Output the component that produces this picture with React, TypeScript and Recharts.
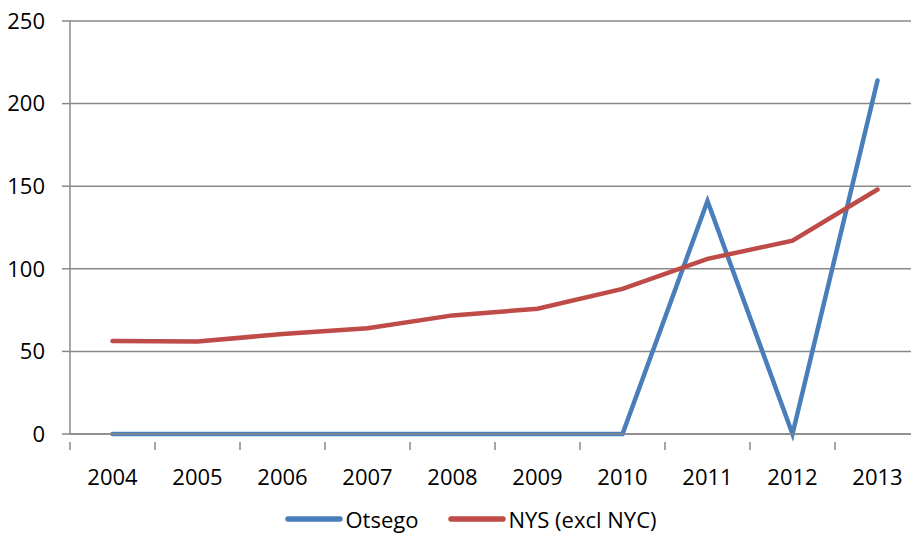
import { LineChart, Line, XAxis, YAxis, CartesianGrid, Legend } from "recharts";

const years = ["2004", "2005", "2006", "2007", "2008", "2009", "2010", "2011", "2012", "2013"];
const otsego = [0, 0, 0, 0, 0, 0, 0, 141, 0, 214];
const nys = [56.3, 56, 60.5, 64, 71.8, 75.8, 87.8, 106, 117, 148];
const yTicks = [0, 50, 100, 150, 200, 250];

const data = years.map((year, i) => ({ year, otsego: otsego[i], nys: nys[i] }));

const FONT = "'Open Sans', sans-serif";
const AXIS = "#898989";
const BLUE = "#4A7EBB";
const RED = "#BE4B48";

// the plot runs a little past the right edge of the picture, so the chart is wider and clipped
const W = 911;
const H = 539;
const CHART_W = 920;
const PLOT_LEFT = 70;
const BAND = (CHART_W - PLOT_LEFT) / years.length;

function YearTick(props: any) {
  const { x, y, payload } = props;
  const left = x - BAND / 2;
  return (
    <g>
      <line x1={left} y1={y} x2={left} y2={y + 8} stroke={AXIS} strokeWidth={1.5} />
      <text x={x} y={y + 43} textAnchor="middle" fontSize={22} fontFamily={FONT} fill="#000">
        {payload.value}
      </text>
    </g>
  );
}

function LegendContent() {
  const items = [
    { label: "Otsego", color: BLUE },
    { label: "NYS (excl NYC)", color: RED },
  ];
  return (
    <div
      style={{
        display: "flex",
        justifyContent: "center",
        alignItems: "center",
        paddingLeft: 22,
        fontFamily: FONT,
        fontSize: 22,
        color: "#000",
        gap: 30,
      }}
    >
      {items.map((it) => (
        <div key={it.label} style={{ display: "flex", alignItems: "center" }}>
          <svg width={58} height={10}>
            <line x1={3} y1={5} x2={55} y2={5} stroke={it.color} strokeWidth={5.5} strokeLinecap="round" />
          </svg>
          <span style={{ marginLeft: 2 }}>{it.label}</span>
        </div>
      ))}
    </div>
  );
}

export default function App() {
  return (
    <div style={{ position: "absolute", left: 0, top: 0, width: W, height: H, overflow: "hidden", background: "#fff" }}>
      <LineChart width={CHART_W} height={H} data={data} margin={{ top: 21, right: 0, left: 0, bottom: 0 }}>
        <CartesianGrid vertical={false} stroke={AXIS} strokeWidth={1.5} />
        <XAxis
          dataKey="year"
          height={70}
          padding={{ left: BAND / 2, right: BAND / 2 }}
          axisLine={{ stroke: AXIS, strokeWidth: 1.5 }}
          tickLine={false}
          tick={<YearTick />}
          interval={0}
        />
        <YAxis
          width={PLOT_LEFT}
          domain={[0, 250]}
          ticks={yTicks}
          axisLine={{ stroke: AXIS, strokeWidth: 1.5 }}
          tickLine={{ stroke: AXIS, strokeWidth: 1.5 }}
          tickSize={8}
          tickMargin={17}
          tick={{ fontSize: 22, fontFamily: FONT, fill: "#000" }}
        />
        <Legend verticalAlign="bottom" height={35} content={<LegendContent />} />
        <Line
          dataKey="otsego"
          name="Otsego"
          stroke={BLUE}
          strokeWidth={4.5}
          dot={false}
          strokeLinecap="round"
          isAnimationActive={false}
        />
        <Line
          dataKey="nys"
          name="NYS (excl NYC)"
          stroke={RED}
          strokeWidth={4.5}
          dot={false}
          strokeLinecap="round"
          isAnimationActive={false}
        />
      </LineChart>
    </div>
  );
}
